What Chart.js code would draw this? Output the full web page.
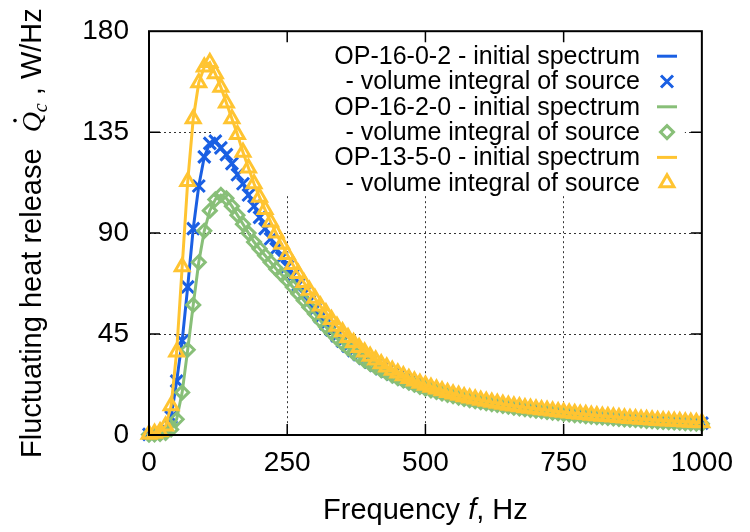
<!DOCTYPE html>
<html>
<head>
<meta charset="utf-8">
<script src="https://cdn.jsdelivr.net/npm/chart.js@4.4.0/dist/chart.umd.min.js"></script>
<style>
  html, body { margin: 0; padding: 0; background: #fff; }
</style>
</head>
<body>
<canvas id="myChart" width="750" height="532"></canvas>
<script>
const canvas = document.getElementById('myChart')

// frequency grid, Hz
const freq = [
  0, 10, 20, 30, 40, 50, 60, 70, 80, 90,
  100, 110, 120, 130, 140, 150, 160, 170, 180, 190,
  200, 210, 220, 230, 240, 250, 260, 270, 280, 290,
  300, 310, 320, 330, 340, 350, 360, 370, 380, 390,
  400, 410, 420, 430, 440, 450, 460, 470, 480, 490,
  500, 510, 520, 530, 540, 550, 560, 570, 580, 590,
  600, 610, 620, 630, 640, 650, 660, 670, 680, 690,
  700, 710, 720, 730, 740, 750, 760, 770, 780, 790,
  800, 810, 820, 830, 840, 850, 860, 870, 880, 890,
  900, 910, 920, 930, 940, 950, 960, 970, 980, 990,
  1000
]

// fluctuating heat release, W/Hz
const op16_0_2 = [
  0.3, 0.5, 1, 2.5, 8, 24, 42, 66, 92, 111,
  124, 130, 131, 128, 125, 121, 116, 112, 107, 102,
  97, 92, 87.5, 83, 79, 75, 71, 67, 63, 59.5,
  56, 52.5, 49.5, 46.8, 44.2, 41.8, 39.6, 37.6, 35.8, 34.1,
  32.5, 31, 29.6, 28.3, 27.1, 26, 24.9, 23.9, 23, 22.1,
  21.3, 20.5, 19.8, 19.1, 18.4, 17.8, 17.2, 16.6, 16.1, 15.6,
  15.1, 14.7, 14.2, 13.8, 13.4, 13, 12.6, 12.3, 11.9, 11.6,
  11.3, 11, 10.7, 10.4, 10.1, 9.8, 9.6, 9.3, 9.1, 8.8,
  8.6, 8.4, 8.2, 8, 7.8, 7.6, 7.4, 7.2, 7, 6.8,
  6.7, 6.5, 6.3, 6.2, 6, 5.9, 5.8, 5.6, 5.5, 5.4,
  5.3
]

const op16_2_0 = [
  0.2, 0.3, 0.5, 1, 2.5, 7, 19, 38, 58, 77,
  91, 100, 105, 107, 105.5, 102, 98, 94, 90, 86,
  83, 80, 77, 74, 71.5, 69, 66, 63, 60, 57,
  54, 51, 48.2, 45.6, 43.1, 40.8, 38.7, 36.7, 34.9, 33.2,
  31.7, 30.3, 28.9, 27.7, 26.5, 25.4, 24.3, 23.3, 22.4, 21.5,
  20.7, 19.9, 19.2, 18.5, 17.9, 17.3, 16.7, 16.1, 15.6, 15.1,
  14.6, 14.2, 13.8, 13.4, 13, 12.6, 12.2, 11.9, 11.5, 11.2,
  10.9, 10.6, 10.3, 10, 9.7, 9.4, 9.2, 8.9, 8.7, 8.4,
  8.2, 8, 7.8, 7.6, 7.4, 7.2, 7, 6.8, 6.7, 6.5,
  6.3, 6.2, 6, 5.9, 5.7, 5.6, 5.5, 5.3, 5.2, 5.1,
  5
]

const op13_5_0 = [
  0.3, 0.8, 1.5, 4, 13, 37, 75, 113, 141, 157,
  164, 166, 161, 155, 148, 141, 134, 126, 119, 112,
  106, 100.5, 95, 90, 85, 80.5, 76, 72, 68, 64.5,
  61, 57.5, 54.5, 51.5, 48.5, 46, 43.5, 41.2, 39, 37,
  35.1, 33.4, 31.8, 30.3, 28.9, 27.6, 26.4, 25.2, 24.1, 23.1,
  22.2, 21.3, 20.5, 19.7, 19, 18.3, 17.7, 17.1, 16.5, 16,
  15.5, 15, 14.6, 14.1, 13.7, 13.3, 12.9, 12.6, 12.2, 11.9,
  11.6, 11.3, 11, 10.7, 10.4, 10.1, 9.8, 9.6, 9.3, 9.1,
  8.8, 8.6, 8.4, 8.2, 8, 7.8, 7.6, 7.4, 7.2, 7,
  6.9, 6.7, 6.5, 6.4, 6.2, 6.1, 6, 5.8, 5.7, 5.6,
  5.5
]

const xTicks = [0, 250, 500, 750, 1000]
const yTicks = [0, 45, 90, 135, 180]

const BLUE = '#1a5fe3'
const GREEN = '#88bf78'
const YELLOW = '#ffc431'
const SANS = '"Liberation Sans", Arial, sans-serif'

function points(vals){
    return freq.map((f, i) => ({x: f, y: vals[i]}))
}

function lineSet(label, vals, color, order){
    return {
        label, data: points(vals), order,
        borderColor: color, borderWidth: 3, pointRadius: 0,
        showLine: true, tension: 0, fill: false, clip: false
    }
}

function markSet(label, vals, color, style, radius, order){
    return {
        label, data: points(vals), order,
        showLine: false, clip: false,
        pointStyle: style, pointRadius: radius,
        pointBorderWidth: 3, pointBorderColor: color,
        pointBackgroundColor: 'rgba(0,0,0,0)'
    }
}

// legend rows, drawn by hand so the text sits right-aligned left of the sample
const legendRows = [
    {text: 'OP-16-0-2 - initial spectrum', color: BLUE, mark: null},
    {text: '- volume integral of source', color: BLUE, mark: 'cross'},
    {text: 'OP-16-2-0 - initial spectrum', color: GREEN, mark: null},
    {text: '- volume integral of source', color: GREEN, mark: 'diamond'},
    {text: 'OP-13-5-0 - initial spectrum', color: YELLOW, mark: null},
    {text: '- volume integral of source', color: YELLOW, mark: 'triangle'}
]

function drawMark(ctx, type, x, y, color){
    ctx.save()
    ctx.strokeStyle = color
    ctx.lineWidth = 3
    ctx.beginPath()
    if (type === 'cross'){
        const r = 6
        ctx.moveTo(x - r, y - r); ctx.lineTo(x + r, y + r)
        ctx.moveTo(x + r, y - r); ctx.lineTo(x - r, y + r)
    } else if (type === 'diamond'){
        const r = 6.5
        ctx.moveTo(x - r, y); ctx.lineTo(x, y - r); ctx.lineTo(x + r, y); ctx.lineTo(x, y + r); ctx.closePath()
    } else {
        const r = 8
        ctx.moveTo(x, y - r)
        ctx.lineTo(x + r * 0.866, y + r * 0.5)
        ctx.lineTo(x - r * 0.866, y + r * 0.5)
        ctx.closePath()
    }
    ctx.stroke()
    ctx.restore()
}

// draws a run of differently styled text pieces centred on (cx, baseline)
function drawRich(ctx, parts, cx, y){
    let total = 0
    parts.forEach(p => { ctx.font = p.font; p.w = ctx.measureText(p.t).width; total += p.w })
    let x = cx - total / 2
    ctx.textAlign = 'left'
    ctx.textBaseline = 'alphabetic'
    parts.forEach(p => {
        ctx.font = p.font
        ctx.fillText(p.t, x, y + (p.dy || 0))
        if (p.dot){
            ctx.beginPath()
            ctx.arc(x + p.w * 0.58, y - 26, 1.8, 0, Math.PI * 2)
            ctx.fill()
        }
        x += p.w
    })
}

const decor = {
    id: 'decor',
    beforeDatasetsDraw(chart){
        // opaque key box hides the grid behind it
        const {ctx, chartArea: a} = chart
        ctx.save()
        ctx.fillStyle = '#fff'
        ctx.fillRect(a.left + 64, a.top + 1, a.right - a.left - 81, 163)
        ctx.restore()
    },
    afterDraw(chart){
        const {ctx, chartArea: a, scales} = chart
        ctx.save()
        ctx.strokeStyle = '#000'
        ctx.lineWidth = 1.5
        ctx.beginPath()
        xTicks.slice(1, -1).forEach(v => {
            const px = scales.x.getPixelForValue(v)
            ctx.moveTo(px, a.bottom); ctx.lineTo(px, a.bottom - 11)
            ctx.moveTo(px, a.top); ctx.lineTo(px, a.top + 11)
        })
        yTicks.slice(1, -1).forEach(v => {
            const py = scales.y.getPixelForValue(v)
            ctx.moveTo(a.left, py); ctx.lineTo(a.left + 11, py)
            ctx.moveTo(a.right, py); ctx.lineTo(a.right - 11, py)
        })
        ctx.stroke()
        ctx.lineWidth = 2
        ctx.strokeRect(a.left, a.top, a.right - a.left, a.bottom - a.top)

        // key
        ctx.fillStyle = '#000'
        ctx.font = '25px ' + SANS
        ctx.textAlign = 'right'
        ctx.textBaseline = 'middle'
        legendRows.forEach((row, i) => {
            const y = a.top + 25 + i * 25.3
            ctx.fillText(row.text, a.left + 491, y + 1)
            if (row.mark){
                drawMark(ctx, row.mark, a.left + 518, y, row.color)
            } else {
                ctx.strokeStyle = row.color
                ctx.lineWidth = 3
                ctx.beginPath()
                ctx.moveTo(a.left + 508, y); ctx.lineTo(a.left + 528, y)
                ctx.stroke()
            }
        })

        // axis titles
        ctx.fillStyle = '#000'
        drawRich(ctx, [
            {t: 'Frequency ', font: '29px ' + SANS},
            {t: 'f', font: 'italic 29px ' + SANS},
            {t: ', Hz', font: '29px ' + SANS}
        ], (a.left + a.right) / 2, 519)

        ctx.translate(41, (a.top + a.bottom) / 2)
        ctx.rotate(-Math.PI / 2)
        drawRich(ctx, [
            {t: 'Fluctuating heat release  ', font: '29px ' + SANS},
            {t: 'Q', font: 'italic 28px "Liberation Serif", serif', dot: true},
            {t: 'c', font: 'italic 20px "Liberation Serif", serif', dy: 6},
            {t: ' , W/Hz', font: '29px ' + SANS}
        ], 0, 0)
        ctx.restore()
    }
}

const config = {
    type: 'line',
    data: {
        datasets: [
            markSet('OP-13-5-0 - volume integral of source', op13_5_0, YELLOW, 'triangle', 8, 0),
            lineSet('OP-13-5-0 - initial spectrum', op13_5_0, YELLOW, 1),
            markSet('OP-16-2-0 - volume integral of source', op16_2_0, GREEN, 'rectRot', 6.5, 2),
            lineSet('OP-16-2-0 - initial spectrum', op16_2_0, GREEN, 3),
            markSet('OP-16-0-2 - volume integral of source', op16_0_2, BLUE, 'crossRot', 8.5, 4),
            lineSet('OP-16-0-2 - initial spectrum', op16_0_2, BLUE, 5)
        ]
    },
    options: {
        responsive: false,
        animation: false,
        devicePixelRatio: 1,
        layout: {
            autoPadding: false,
            padding: {left: 0, right: 40, top: 28, bottom: 0}
        },
        plugins: {
            legend: {display: false},
            tooltip: {enabled: false}
        },
        scales: {
            x: {
                type: 'linear', min: 0, max: 1000,
                afterBuildTicks: s => { s.ticks = xTicks.map(v => ({value: v})) },
                afterFit: s => { s.height = 97 },
                ticks: {font: {family: SANS, size: 28, lineHeight: 0.8}, color: '#000', padding: 17, maxRotation: 0,
                        callback: v => String(v)},
                grid: {color: '#333', lineWidth: 1, drawTicks: false},
                border: {display: false, dash: [2, 3]}
            },
            y: {
                type: 'linear', min: 0, max: 180,
                afterBuildTicks: s => { s.ticks = yTicks.map(v => ({value: v})) },
                afterFit: s => { s.width = 149 },
                ticks: {font: {family: SANS, size: 28, lineHeight: 0.8}, color: '#000', padding: 20,
                        callback: v => String(v)},
                grid: {color: '#333', lineWidth: 1, drawTicks: false},
                border: {display: false, dash: [2, 3]}
            }
        }
    },
    plugins: [decor]
}

const myChart = new Chart(canvas, config)
</script>
</body>
</html>
